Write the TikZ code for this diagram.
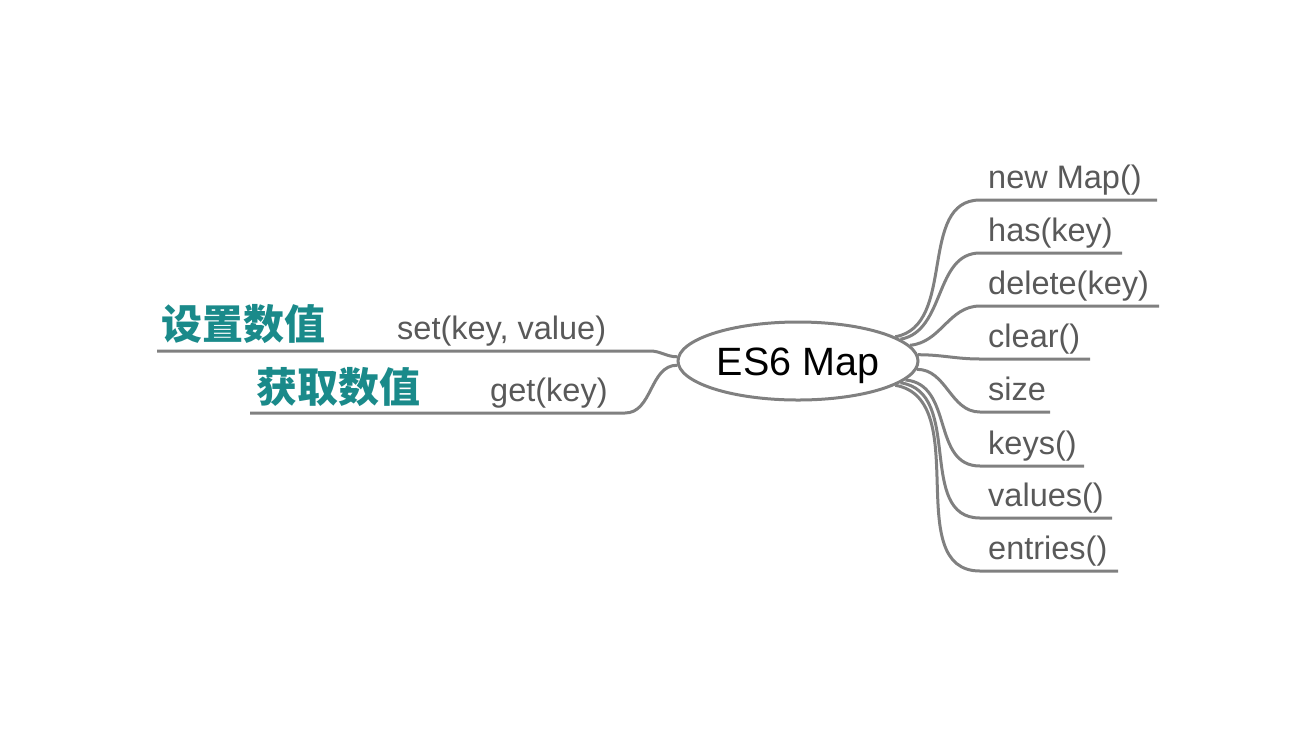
\documentclass[tikz,border=0pt]{standalone}
\usepackage{fontspec}
\setmainfont{Liberation Sans}
\newfontfamily\cjk{Noto Sans CJK SC}
\usetikzlibrary{shapes.geometric}
\definecolor{linegray}{RGB}{128,128,128}
\definecolor{textgray}{RGB}{89,89,89}
\definecolor{tealcn}{RGB}{26,138,138}
\begin{document}
\begin{tikzpicture}[x=1pt,y=-1pt,
  branch/.style={draw=linegray, line width=3pt},
  leaf/.style={anchor=base west, inner sep=0pt, text=textgray, font=\fontsize{32.5}{38}\selectfont},
  cnlabel/.style={anchor=base west, inner sep=0pt, text=tealcn, font=\fontsize{41}{48}\selectfont\cjk\bfseries}]
\useasboundingbox (0,0) rectangle (1316,729);
\node[ellipse, draw=linegray, line width=3pt, fill=white, minimum width=240pt, minimum height=78pt,
  inner sep=0pt, text height=28.5pt, text depth=0pt, font=\fontsize{39.5}{46}\selectfont] (m) at (798,361) {ES6 Map};

% right branches
\coordinate (r1s) at (980,200); \coordinate (r1e) at (1157,200);
\coordinate (r2s) at (980,253); \coordinate (r2e) at (1122,253);
\coordinate (r3s) at (980,306); \coordinate (r3e) at (1159,306);
\coordinate (r4s) at (980,359); \coordinate (r4e) at (1090,359);
\coordinate (r5s) at (980,412); \coordinate (r5e) at (1050,412);
\coordinate (r6s) at (980,466); \coordinate (r6e) at (1084,466);
\coordinate (r7s) at (980,518); \coordinate (r7e) at (1112,518);
\coordinate (r8s) at (980,571); \coordinate (r8e) at (1118,571);

\node[leaf] (r1) at (988,188) {new Map()};
\node[leaf] (r2) at (988,241) {has(key)};
\node[leaf] (r3) at (988,294) {delete(key)};
\node[leaf] (r4) at (988,347) {clear()};
\node[leaf] (r5) at (988,400) {size};
\node[leaf] (r6) at (988,454) {keys()};
\node[leaf] (r7) at (988,506) {values()};
\node[leaf] (r8) at (988,559) {entries()};

\draw[branch] (m.14) to[out=10,in=180] (r1s) -- (r1e);
\draw[branch] (m.12) to[out=10,in=180] (r2s) -- (r2e);
\draw[branch] (m.8) to[out=5,in=180] (r3s) -- (r3e);
\draw[branch] (m.3) to[out=0,in=180] (r4s) -- (r4e);
\draw[branch] (m.-4) to[out=0,in=180] (r5s) -- (r5e);
\draw[branch] (m.-10) to[out=-5,in=180,looseness=1.1] (r6s) -- (r6e);
\draw[branch] (m.-12) to[out=-8,in=180,looseness=1.05] (r7s) -- (r7e);
\draw[branch] (m.-14) to[out=-10,in=180] (r8s) -- (r8e);

% left branches
\coordinate (l1s) at (650,351); \coordinate (l1e) at (157,351);
\coordinate (l2s) at (625,413); \coordinate (l2e) at (250,413);
\draw[branch] (m.178) to[out=180,in=0] (l1s) -- (l1e);
\draw[branch] (m.182) to[out=180,in=0] (l2s) -- (l2e);

\node[leaf] (l1) at (397,339) {set(key, value)};
\node[leaf] (l2) at (490,401) {get(key)};
\node[cnlabel] (c1) at (161,339) {设置数值};
\node[cnlabel] (c2) at (256,402) {获取数值};
\end{tikzpicture}
\end{document}
